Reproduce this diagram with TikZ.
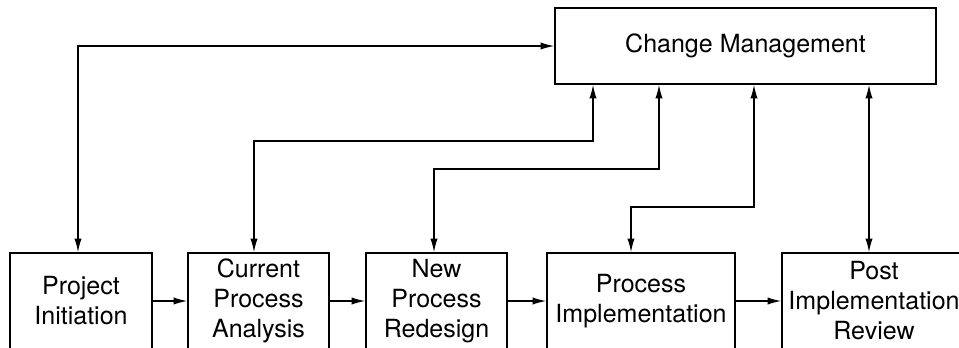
\documentclass[tikz,border=0pt]{standalone}
\usepackage{fontspec}
\setmainfont{TeX Gyre Heros}
\usetikzlibrary{arrows.meta}
\begin{document}
\begin{tikzpicture}[>={Latex[length=3.4mm,width=1.8mm]},
		phase/.style={draw,line width=1pt,align=center,inner sep=0pt,minimum height=2.4cm,font=\fontsize{17.8}{21.3}\selectfont},
		link/.style={line width=1pt}]
				\clip (0,0) rectangle (23.975,8.675);
				\node [phase,minimum width=9.525cm,minimum height=1.9cm] (cm) at (18.6375,7.525) {Change Management};
				\node [phase,minimum width=3.55cm] (pi) at (2.025,1.15) {Project\\Initiation};
				\node [phase,minimum width=3.525cm] (ca) at (6.4625,1.15) {Current\\Process\\Analysis};
				\node [phase,minimum width=3.525cm] (npr) at (10.9125,1.15) {New\\Process\\Redesign};
				\node [phase,minimum width=4.7cm] (impl) at (16.025,1.15) {Process\\Implementation};
				\node [phase,minimum width=4.6cm] (pir) at (21.85,1.15) {Post\\Implementation\\Review};
				% phase to phase
				\draw [link,->] (pi) -- (ca);
				\draw [link,->] (ca) -- (npr);
				\draw [link,->] (npr) -- (impl);
				\draw [link,->] (impl) -- (pir);
				% links to change management
				\coordinate (pi x) at (1.95,0);
				\draw [link,<->] (cm.west) -| (pi.north -| pi x);
				\coordinate (ca low) at (6.35,5.15);
				\coordinate (ca high) at (14.825,5.15);
				\draw [link,<->] (ca.north -| ca low) |- (ca high) -- (cm.south -| ca high);
				\coordinate (npr low) at (10.85,4.45);
				\coordinate (npr high) at (16.475,4.45);
				\draw [link,<->] (npr.north -| npr low) |- (npr high) -- (cm.south -| npr high);
				\coordinate (impl low) at (15.775,3.5);
				\coordinate (impl high) at (18.85,3.5);
				\draw [link,<->] (impl.north -| impl low) |- (impl high) -- (cm.south -| impl high);
				\coordinate (pir x) at (21.725,0);
				\draw [link,<->] (cm.south -| pir x) -- (pir.north -| pir x);
			\end{tikzpicture}
\end{document}
